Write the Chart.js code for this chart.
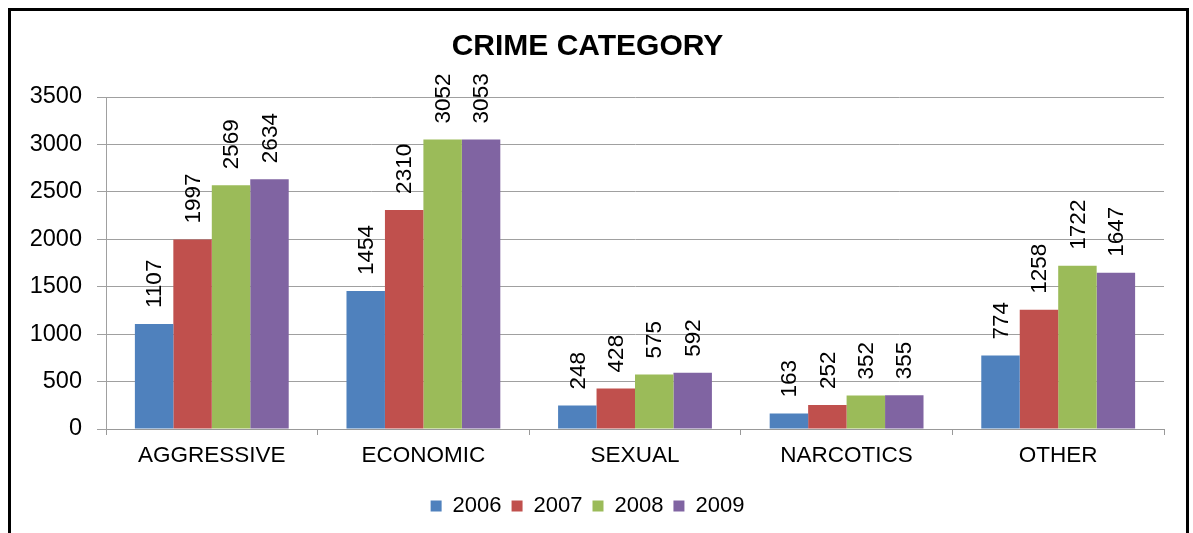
<!DOCTYPE html>
<html>
<head>
<meta charset="utf-8">
<script src="https://cdn.jsdelivr.net/npm/chart.js@4/dist/chart.umd.min.js"></script>
<style>
  html, body { margin: 0; padding: 0; background: #fff; }
  #wrap { position: relative; width: 1193px; height: 533px; }
</style>
</head>
<body>
<div id="wrap"><canvas id="c" width="1193" height="533"></canvas></div>
<script>
// Crime counts per category and year
const categories = ['AGGRESSIVE', 'ECONOMIC', 'SEXUAL', 'NARCOTICS', 'OTHER'];
const years = ['2006', '2007', '2008', '2009'];
const values2006 = [1107, 1454, 248, 163, 774];
const values2007 = [1997, 2310, 428, 252, 1258];
const values2008 = [2569, 3052, 575, 352, 1722];
const values2009 = [2634, 3053, 592, 355, 1647];
const yTicks = [0, 500, 1000, 1500, 2000, 2500, 3000, 3500];

const seriesValues = [values2006, values2007, values2008, values2009];
const colors = ['#4F81BD', '#C0504D', '#9BBB59', '#8064A2'];
const FONT = '"Liberation Sans", Arial, sans-serif';

// White page with a frame around the chart
const framePlugin = {
  id: 'frame',
  beforeDraw(chart) {
    const ctx = chart.ctx;
    ctx.save();
    ctx.fillStyle = '#fff';
    ctx.fillRect(0, 0, chart.width, chart.height);
    ctx.strokeStyle = '#000';
    ctx.lineWidth = 3;
    ctx.beginPath();
    ctx.moveTo(9.5, chart.height + 5);
    ctx.lineTo(9.5, 9.5);
    ctx.lineTo(1187.5, 9.5);
    ctx.lineTo(1187.5, chart.height + 5);
    ctx.stroke();
    ctx.restore();
  }
};

// Vertical value labels above each bar
const valueLabels = {
  id: 'valueLabels',
  afterDatasetsDraw(chart) {
    const ctx = chart.ctx;
    ctx.save();
    ctx.fillStyle = '#000';
    ctx.font = '22.5px ' + FONT;
    ctx.textAlign = 'left';
    ctx.textBaseline = 'middle';
    chart.data.datasets.forEach((ds, i) => {
      const meta = chart.getDatasetMeta(i);
      meta.data.forEach((bar, j) => {
        ctx.save();
        ctx.translate(bar.x + 1, bar.y - 16);
        ctx.rotate(-Math.PI / 2);
        ctx.fillText(String(ds.data[j]), 0, 0);
        ctx.restore();
      });
    });
    ctx.restore();
  }
};

new Chart(document.getElementById('c'), {
  type: 'bar',
  data: {
    labels: categories,
    datasets: years.map((y, i) => ({
      label: y,
      data: seriesValues[i],
      backgroundColor: colors[i],
      borderWidth: 0,
      categoryPercentage: 0.727,
      barPercentage: 1.0
    }))
  },
  options: {
    responsive: false,
    animation: false,
    devicePixelRatio: 1,
    layout: { padding: { left: 11, right: 29, top: 0, bottom: 6 } },
    plugins: {
      title: {
        display: true,
        text: 'CRIME CATEGORY',
        color: '#000',
        font: { family: FONT, size: 30, weight: 'bold' },
        padding: { top: 29, bottom: 32 }
      },
      legend: {
        position: 'bottom',
        labels: {
          color: '#000',
          font: { family: FONT, size: 22 },
          boxWidth: 11,
          boxHeight: 11,
          padding: 10
        }
      },
      tooltip: { enabled: false }
    },
    scales: {
      x: {
        grid: {
          drawOnChartArea: false,
          drawTicks: true,
          tickLength: 6,
          color: '#999'
        },
        border: { color: '#999', width: 1 },
        ticks: {
          color: '#000',
          font: { family: FONT, size: 22.5 },
          padding: 7,
          maxRotation: 0
        },
        afterFit(scale) { scale.height = 56; }
      },
      y: {
        min: 0,
        max: 3500,
        afterBuildTicks(scale) { scale.ticks = yTicks.map(v => ({ value: v })); },
        grid: { color: '#a0a0a0', lineWidth: 1, tickLength: 9 },
        border: { color: '#a0a0a0', width: 1 },
        ticks: {
          color: '#000',
          font: { family: FONT, size: 23.5 },
          padding: 15,
          callback: (v) => String(v)
        },
        afterFit(scale) { scale.width = 95; }
      }
    }
  },
  plugins: [framePlugin, valueLabels]
});
</script>
</body>
</html>
